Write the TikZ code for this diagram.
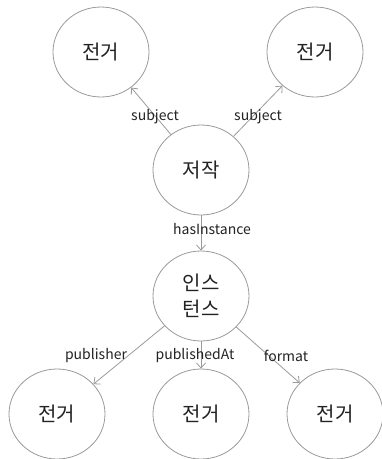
\documentclass[tikz,border=0pt]{standalone}
\usepackage{fontspec}
\setmainfont{Noto Sans CJK KR}
\usetikzlibrary{arrows.meta,shapes.geometric}
\definecolor{edgegray}{HTML}{9A9A9A}
\definecolor{txt}{HTML}{222222}
\begin{document}
\begin{tikzpicture}[x=1pt,y=-1pt,
  ent/.style={draw=edgegray,line width=0.8pt,ellipse,minimum width=96pt,minimum height=90pt,inner sep=0pt,font=\fontsize{20}{26}\selectfont,text=txt,align=center},
  rel/.style={draw=edgegray,line width=0.8pt,-{Straight Barb[length=5pt,width=9pt]}},
  lab/.style={font=\fontsize{14}{16}\selectfont,text=txt,inner sep=0pt}]
\useasboundingbox (0,0) rectangle (382,459);
\node[ent] (b1) at (101,52) {전거};
\node[ent] (b2) at (315,52) {전거};
\node[ent] (w) at (201,170) {저작};
\node[ent] (i) at (201,296) {인스\\턴스};
\node[ent] (b3) at (57,414) {전거};
\node[ent] (b4) at (201,414) {전거};
\node[ent] (b5) at (335,414) {전거};
\draw[rel] (w) -- (b1);
\draw[rel] (w) -- (b2);
\draw[rel] (w) -- (i);
\draw[rel] (i) -- (b3);
\draw[rel] (i) -- (b4);
\draw[rel] (i) -- (b5);
\node[lab] (l1) at (155,117) {subject};
\node[lab] (l2) at (258,117) {subject};
\node[lab] (l3) at (212,229) {hasInstance};
\node[lab] (l4) at (96,356) {publisher};
\node[lab] (l5) at (195,356) {publishedAt};
\node[lab] (l6) at (286,356) {format};
\end{tikzpicture}
\end{document}
